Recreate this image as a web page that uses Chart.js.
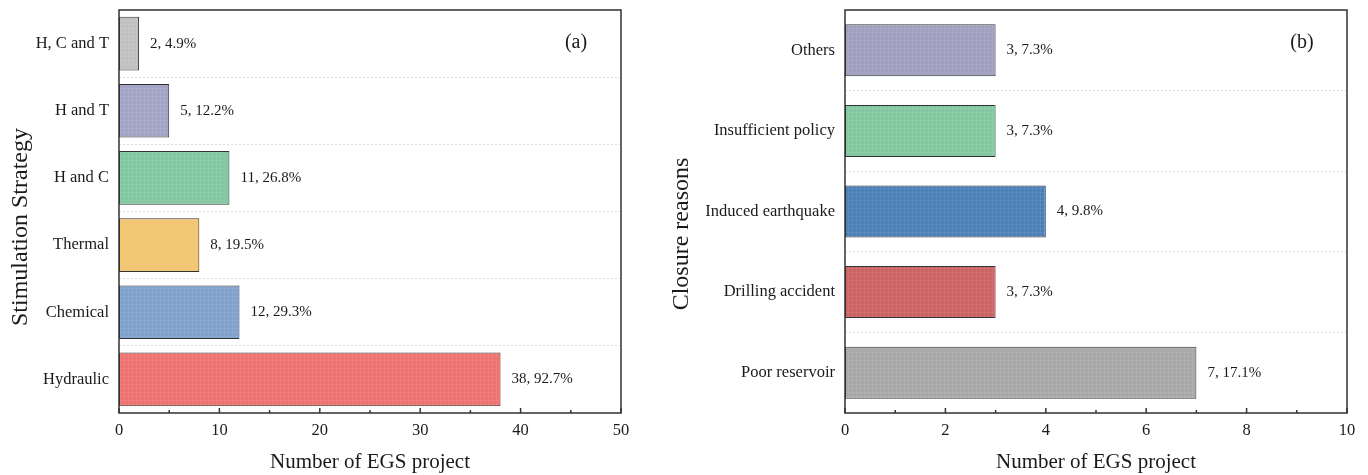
<!DOCTYPE html>
<html>
<head>
<meta charset="utf-8">
<script src="https://cdn.jsdelivr.net/npm/chart.js@4.4.1/dist/chart.umd.min.js"></script>
<style>
  html, body { margin: 0; padding: 0; background: #fff; }
  #wrap { position: relative; width: 1368px; height: 475px; overflow: hidden; }
  .box { position: absolute; top: 0; height: 475px; }
  #boxA { left: 0; width: 660px; }
  #boxB { left: 660px; width: 708px; }
</style>
</head>
<body>
<div id="wrap">
  <div class="box" id="boxA"><canvas id="chartA" width="660" height="475"></canvas></div>
  <div class="box" id="boxB"><canvas id="chartB" width="708" height="475"></canvas></div>
</div>
<script>
// ---- Data (a) ----
const categoriesA = ['H, C and T', 'H and T', 'H and C', 'Thermal', 'Chemical', 'Hydraulic'];
const valuesA = [2, 5, 11, 8, 12, 38];
const percentsA = ['4.9%', '12.2%', '26.8%', '19.5%', '29.3%', '92.7%'];
const colorsA = ['#c0c0c0', '#a3a3c5', '#80c8a1', '#f3c56f', '#7ea1ce', '#ef726e'];
const ticksA = [0, 10, 20, 30, 40, 50];

// ---- Data (b) ----
const categoriesB = ['Others', 'Insufficient policy', 'Induced earthquake', 'Drilling accident', 'Poor reservoir'];
const valuesB = [3, 3, 4, 3, 7];
const percentsB = ['7.3%', '7.3%', '9.8%', '7.3%', '17.1%'];
const colorsB = ['#a09fbf', '#80c9a0', '#4a7fb8', '#cc6262', '#a8a8a8'];
const ticksB = [0, 2, 4, 6, 8, 10];

const FONT = "'Liberation Serif', 'Times New Roman', serif";
const TXT = '#1a1a1a';

function makePattern(color) {
  const c = document.createElement('canvas');
  c.width = 4; c.height = 4;
  const g = c.getContext('2d');
  g.fillStyle = color;
  g.fillRect(0, 0, 4, 4);
  g.fillStyle = 'rgba(255,255,255,0.07)';
  g.fillRect(0, 0, 4, 1);
  g.fillRect(0, 0, 1, 4);
  return g.createPattern(c, 'repeat');
}

const framePlugin = {
  id: 'frame',
  afterDatasetsDraw(chart, args, opts) {
    const ctx = chart.ctx;
    const a = chart.chartArea;
    const xs = chart.scales.x;
    ctx.save();
    // data labels
    ctx.font = '15px ' + FONT;
    ctx.fillStyle = TXT;
    ctx.textAlign = 'left';
    ctx.textBaseline = 'middle';
    const meta = chart.getDatasetMeta(0);
    const ds = chart.data.datasets[0];
    meta.data.forEach((el, i) => {
      ctx.fillText(ds.data[i] + ', ' + opts.percents[i], el.x + 11, el.y);
    });
    // frame
    ctx.strokeStyle = '#333';
    ctx.lineWidth = 1.5;
    ctx.strokeRect(a.left, a.top, a.right - a.left, a.bottom - a.top);
    // inward ticks
    const vals = opts.ticks;
    for (let i = 0; i < vals.length; i++) {
      const px = xs.getPixelForValue(vals[i]);
      ctx.beginPath(); ctx.moveTo(px, a.bottom); ctx.lineTo(px, a.bottom - 5); ctx.stroke();
      if (i < vals.length - 1) {
        const mid = (vals[i] + vals[i + 1]) / 2;
        const pm = xs.getPixelForValue(mid);
        ctx.beginPath(); ctx.moveTo(pm, a.bottom); ctx.lineTo(pm, a.bottom - 3); ctx.stroke();
      }
    }
    // panel tag
    ctx.font = '20px ' + FONT;
    ctx.textAlign = 'center';
    ctx.textBaseline = 'middle';
    ctx.fillText(opts.tag, a.right - 45, a.top + 33);
    // y-axis title
    ctx.font = '24px ' + FONT;
    ctx.translate(opts.yTitleX, opts.yTitleY);
    ctx.rotate(-Math.PI / 2);
    ctx.fillText(opts.yTitle, 0, 0);
    ctx.restore();
  }
};

function build(id, cats, vals, percs, cols, ticks, maxX, step, barPct, yTitle, tag, yWidth, rightPad, yTitleX, yTitleY) {
  return new Chart(document.getElementById(id), {
    type: 'bar',
    data: {
      labels: cats,
      datasets: [{
        data: vals,
        backgroundColor: cols.map(makePattern),
        borderColor: '#333',
        borderWidth: 1,
        borderSkipped: false,
        barPercentage: barPct,
        categoryPercentage: 1.0
      }]
    },
    options: {
      indexAxis: 'y',
      responsive: false,
      animation: false,
      events: [],
      layout: { padding: { top: 10, right: rightPad, bottom: 0, left: 0 } },
      plugins: {
        legend: { display: false },
        tooltip: { enabled: false },
        frame: { percents: percs, ticks: ticks, tag: tag, yTitle: yTitle, yTitleX: yTitleX, yTitleY: yTitleY }
      },
      scales: {
        x: {
          min: 0, max: maxX,
          ticks: { stepSize: step, color: TXT, font: { family: FONT, size: 16.5 }, padding: 8, maxRotation: 0 },
          grid: { display: false, drawTicks: false },
          border: { display: false },
          title: { display: true, text: 'Number of EGS project', color: TXT, font: { family: FONT, size: 21 }, padding: { top: 0, bottom: 0 } },
          afterFit(s) { s.height = 62; s.paddingLeft = 0; s.paddingRight = 0; }
        },
        y: {
          ticks: { color: TXT, font: { family: FONT, size: 16.5 }, padding: 10 },
          grid: { color: '#dcdcdc', drawTicks: false, lineWidth: 1 },
          border: { display: false, dash: [2, 2] },
          afterFit(s) { s.width = yWidth; s.paddingTop = 0; s.paddingBottom = 0; }
        }
      }
    },
    plugins: [framePlugin]
  });
}

build('chartA', categoriesA, valuesA, percentsA, colorsA, ticksA, 50, 10, 0.80, 'Stimulation Strategy', '(a)', 119, 39, 21, 227);
build('chartB', categoriesB, valuesB, percentsB, colorsB, ticksB, 10, 2, 0.645, 'Closure reasons', '(b)', 185, 21, 22, 234);
</script>
</body>
</html>
